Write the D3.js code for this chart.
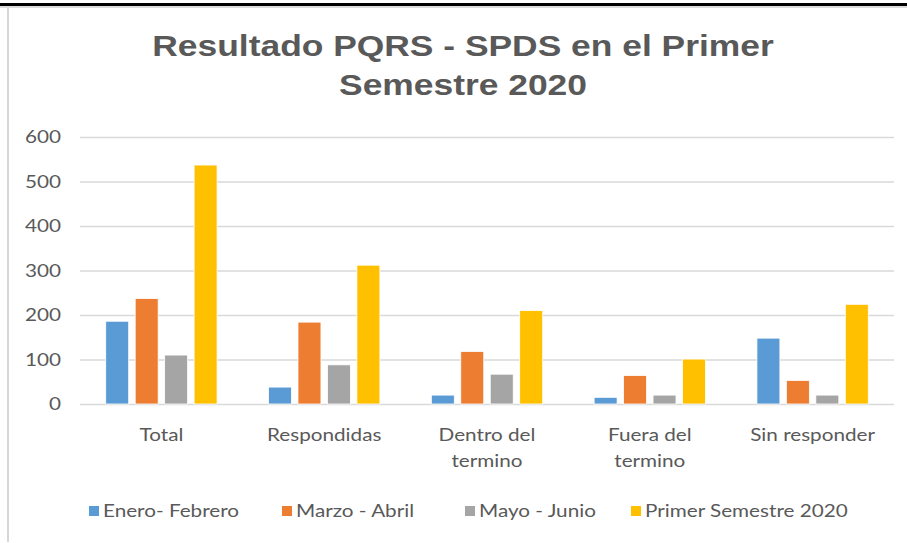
<!DOCTYPE html>
<html>
<head>
<meta charset="utf-8">
<script src="https://cdn.jsdelivr.net/npm/d3@7"></script>
<style>
  body { margin: 0; background: #fff; }
  svg { display: block; }
</style>
</head>
<body>
<div id="container"></div>
<script>
/**
 * DATA
 * */
const categories = ["Total", "Respondidas", "Dentro del|termino", "Fuera del|termino", "Sin responder"];
const series = ["Enero- Febrero", "Marzo - Abril", "Mayo - Junio", "Primer Semestre 2020"];
const eneroFebrero = [186, 38, 20, 15, 148];
const marzoAbril = [237, 184, 118, 64, 53];
const mayoJunio = [110, 88, 67, 20, 20];
const primerSemestre = [537, 312, 210, 101, 224];
const yTicks = [0, 100, 200, 300, 400, 500, 600];

const colors = ["#5B9BD5", "#ED7D31", "#A5A5A5", "#FFC000"];

/**
 * CONSTANTS
 * */
const width = 907,
  height = 543,
  margin = { top: 137, bottom: 139, left: 80, right: 13 };
const stretch = 1.15; // the screenshot text is wider than it is tall
const textColor = "#595959";

const values = [eneroFebrero, marzoAbril, mayoJunio, primerSemestre];
const rows = categories.map((c, i) => ({
  cat: c,
  vals: series.map((s, j) => ({ key: s, value: values[j][i] }))
}));

const svg = d3.select("#container")
  .append("svg")
  .attr("width", width)
  .attr("height", height)
  .style("font-family", "Lato, 'Liberation Sans', sans-serif");

// frame like the screenshot
svg.append("rect").attr("x", 0).attr("y", 6).attr("width", width).attr("height", 2).attr("fill", "#dcdcdc");
svg.append("rect").attr("x", 0).attr("y", 3).attr("width", width).attr("height", 3).attr("fill", "#000");
svg.append("rect").attr("x", 7).attr("y", 8).attr("width", 2).attr("height", 534).attr("fill", "#d6d6d6");

// title
const titleLines = ["Resultado PQRS - SPDS en el Primer", "Semestre 2020"];
svg.append("g")
  .selectAll("text")
  .data(titleLines)
  .join("text")
  .attr("transform", (d, i) => `translate(463,${56 + i * 39}) scale(1.18,1)`)
  .attr("text-anchor", "middle")
  .attr("fill", textColor)
  .style("font-family", "'Liberation Sans', Arial, sans-serif")
  .style("font-weight", "bold")
  .style("font-size", "30px")
  .text(d => d);

/**
 * SCALES
 * */
const x0 = d3.scaleBand()
  .domain(categories)
  .range([margin.left, width - margin.right])
  .paddingInner(0.316)
  .paddingOuter(0.158);

const x1 = d3.scaleBand()
  .domain(series)
  .range([0, x0.bandwidth()])
  .paddingInner(0.22);

const y = d3.scaleLinear()
  .domain([0, 600])
  .range([height - margin.bottom, margin.top]);

const color = d3.scaleOrdinal().domain(series).range(colors);

// gridlines + y labels
const yAxis = svg.append("g")
  .attr("transform", `translate(${margin.left},0)`)
  .call(d3.axisLeft(y).tickValues(yTicks).tickSize(-(width - margin.left - margin.right)).tickPadding(19));
yAxis.select(".domain").remove();
yAxis.selectAll(".tick line").attr("stroke", "#d9d9d9").attr("stroke-width", 1.6);
yAxis.selectAll(".tick text")
  .attr("x", -19 / stretch)
  .attr("transform", `scale(${stretch},1)`)
  .attr("fill", textColor)
  .style("font-family", "Lato, sans-serif")
  .style("font-size", "18px");

// bars
svg.append("g")
  .selectAll("g")
  .data(rows)
  .join("g")
  .attr("transform", d => `translate(${x0(d.cat)},0)`)
  .selectAll("rect")
  .data(d => d.vals)
  .join("rect")
  .attr("x", d => x1(d.key))
  .attr("y", d => y(d.value))
  .attr("width", x1.bandwidth())
  .attr("height", d => y(0) - y(d.value))
  .attr("fill", d => color(d.key))
  .attr("stroke", "#fff")
  .attr("stroke-width", 0.8);

// category labels
const catLabels = svg.append("g")
  .selectAll("text")
  .data(categories)
  .join("text")
  .attr("transform", d => `translate(${x0(d) + x0.bandwidth() / 2},441) scale(${stretch},1)`)
  .attr("text-anchor", "middle")
  .attr("fill", textColor)
  .style("font-size", "18px");
catLabels.selectAll("tspan")
  .data(d => d.split("|"))
  .join("tspan")
  .attr("x", 0)
  .attr("dy", (d, i) => i === 0 ? 0 : 26)
  .text(d => d);

// legend
const legendX = [89, 282, 465, 631];
const legend = svg.append("g")
  .selectAll("g")
  .data(series)
  .join("g")
  .attr("transform", (d, i) => `translate(${legendX[i]},506)`);
legend.append("rect")
  .attr("width", 10).attr("height", 10)
  .attr("fill", d => color(d));
legend.append("text")
  .attr("transform", `translate(14,11) scale(${stretch},1)`)
  .attr("fill", textColor)
  .style("font-size", "18px")
  .text(d => d);
</script>
</body>
</html>
